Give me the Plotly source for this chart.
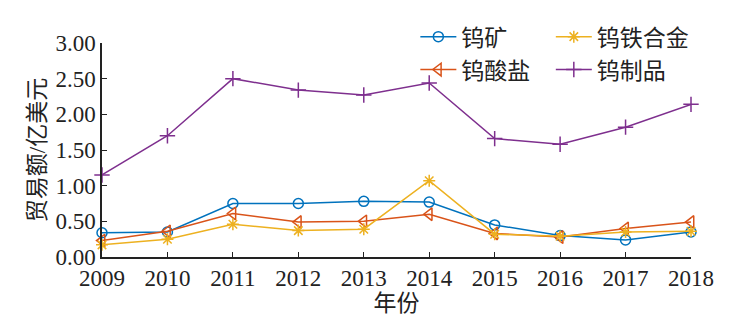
import plotly.graph_objects as go

years = [2009, 2010, 2011, 2012, 2013, 2014, 2015, 2016, 2017, 2018]
ore = [0.34, 0.35, 0.75, 0.75, 0.78, 0.77, 0.45, 0.30, 0.24, 0.35]
tungstate = [0.23, 0.36, 0.61, 0.49, 0.50, 0.60, 0.33, 0.28, 0.40, 0.49]
ferro = [0.17, 0.25, 0.46, 0.37, 0.39, 1.07, 0.32, 0.29, 0.35, 0.36]
products = [1.15, 1.70, 2.50, 2.34, 2.27, 2.44, 1.66, 1.58, 1.82, 2.14]

y_ticks = [0, 0.5, 1.0, 1.5, 2.0, 2.5, 3.0]
y_tick_text = ["0.00", "0.50", "1.00", "1.50", "2.00", "2.50", "3.00"]

FONT = "Liberation Serif, Noto Sans CJK SC, serif"

# name, values, colour, marker symbol, marker size, legend column
series = [
    ("钨矿", ore, "#0072BD", "circle-open", 10, "legend"),
    ("钨酸盐", tungstate, "#D95319", "triangle-left-open", 11, "legend"),
    ("钨铁合金", ferro, "#EDB120", "asterisk-open", 10, "legend2"),
    ("钨制品", products, "#7E2F8E", "cross-thin-open", 11, "legend2"),
]

fig = go.Figure()
for name, vals, color, sym, size, leg in series:
    fig.add_trace(go.Scatter(
        x=years, y=vals, name=name, mode="lines+markers",
        line=dict(color=color, width=1.5),
        marker=dict(symbol=sym, size=size, color=color,
                    line=dict(color=color, width=1.5)),
        cliponaxis=False, legend=leg,
    ))

legend_style = dict(
    orientation="v", yanchor="top", xanchor="left",
    font=dict(size=23, family=FONT), bgcolor="rgba(0,0,0,0)",
    tracegroupgap=0, borderwidth=0, itemwidth=36,
)

fig.update_layout(
    width=741, height=331,
    margin=dict(l=102, r=50, t=43, b=74),
    paper_bgcolor="white", plot_bgcolor="white",
    font=dict(family=FONT, size=22, color="#222222"),
    showlegend=True,
    legend=dict(x=0.532, y=1.13, **legend_style),
    legend2=dict(x=0.762, y=1.13, **legend_style),
    xaxis=dict(
        range=[2009, 2018], tickmode="array", tickvals=years,
        showline=True, linecolor="#222222", linewidth=1.5,
        ticks="inside", ticklen=5, tickcolor="#222222",
        showgrid=False, zeroline=False,
        tickfont=dict(size=23, family=FONT),
        title=dict(text="年份", font=dict(size=23, family=FONT), standoff=0),
    ),
    yaxis=dict(
        range=[0, 3], tickmode="array", tickvals=y_ticks, ticktext=y_tick_text,
        showline=True, linecolor="#222222", linewidth=1.5,
        ticks="inside", ticklen=5, tickcolor="#222222",
        showgrid=False, zeroline=False,
        tickfont=dict(size=23, family=FONT),
        title=dict(text="贸易额/亿美元", font=dict(size=23, family=FONT), standoff=3),
    ),
)

fig.write_html("out.html")
